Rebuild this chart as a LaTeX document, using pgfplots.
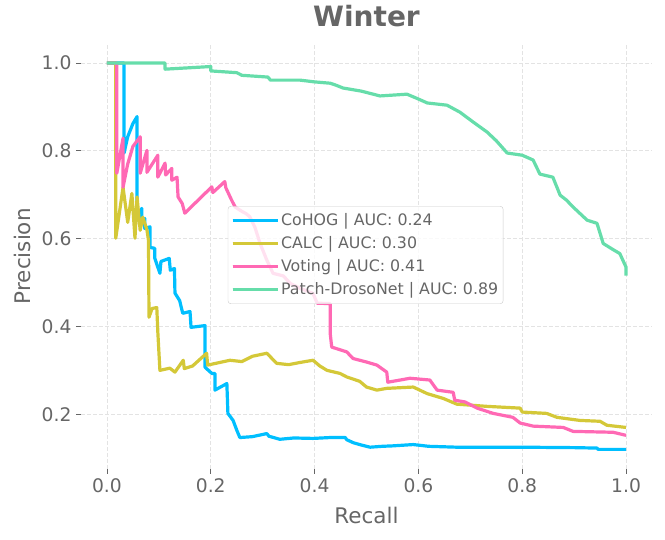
\documentclass[border=0pt]{standalone}
\usepackage{pgfplots}
\pgfplotsset{compat=1.18}
\usepackage{fontspec}
\setmainfont{DejaVu Sans}
\usetikzlibrary{calc}
\definecolor{cohog}{RGB}{0,191,255}
\definecolor{calcc}{RGB}{212,200,56}
\definecolor{voting}{RGB}{255,105,180}
\definecolor{droso}{RGB}{102,221,170}
\definecolor{txt}{RGB}{102,102,102}
\begin{document}
\begin{tikzpicture}
\begin{axis}[
 name=ax, scale only axis, width=571pt, height=425pt,
 xmin=-0.05, xmax=1.05, ymin=0.076, ymax=1.044,
 axis x line*=bottom, axis y line*=left,
 axis line style={draw=none},
 xtick={0,0.2,0.4,0.6,0.8,1}, ytick={0.2,0.4,0.6,0.8,1},
 /pgf/number format/.cd, fixed, fixed zerofill, precision=1, assume math mode=true,
 /pgfplots/.cd,
 ticklabel style={font=\fontsize{18.7}{22}\selectfont, text=txt},
 xticklabel style={yshift=-1pt},
 yticklabel style={xshift=-1pt},
 grid=major, major grid style={dash pattern=on 4pt off 2pt, color=gray!22, line width=0.8pt},
 tick align=outside, major tick length=5pt, tick style={color=txt, line width=0.8pt},
 title={Winter},
 title style={font=\fontsize{28}{32}\selectfont\bfseries, text=txt, at={(axis description cs:0.5,1)}, anchor=base, yshift=10.7pt},
 xlabel={Recall}, ylabel={Precision},
 label style={font=\fontsize{21.5}{26}\selectfont, text=txt},
 xlabel style={at={(axis description cs:0.5,-0.1286)}, anchor=base},
 ylabel style={at={(axis description cs:-0.0893,0.5)}, anchor=base},
 legend style={at={(0.257,0.618)}, anchor=north west, fill=white, fill opacity=0.8, text opacity=1,
   draw=gray!40, rounded corners=3pt, font=\fontsize{15.8}{19}\selectfont, text=txt,
   inner xsep=3pt, inner ysep=5.5pt, row sep=5.4pt, nodes={inner sep=2pt}},
 legend cell align=left,
 legend image code/.code={\draw[#1, line width=3pt] (0pt,0pt) -- (35pt,0pt);\path (0pt,0pt) -- (45pt,0pt);},
]
\addplot[cohog, line width=3.2pt, line join=round] coordinates {
(0,1.0)(0.033,1.0)(0.033,0.795)(0.04,0.832)(0.05,0.862)(0.058,0.878)(0.058,0.642)(0.067,0.669)(0.067,0.635)(0.073,0.646)(0.073,0.623)(0.083,0.627)(0.083,0.58)(0.092,0.578)(0.092,0.556)(0.102,0.521)(0.104,0.548)(0.12,0.555)(0.122,0.528)(0.13,0.532)(0.131,0.476)(0.14,0.459)(0.146,0.43)(0.16,0.434)(0.162,0.398)(0.189,0.402)(0.189,0.307)(0.202,0.293)(0.208,0.293)(0.208,0.255)(0.231,0.27)(0.233,0.202)(0.243,0.186)(0.25,0.164)(0.256,0.147)(0.28,0.149)(0.308,0.156)(0.312,0.150)(0.333,0.143)(0.36,0.146)(0.397,0.145)(0.43,0.147)(0.459,0.147)(0.462,0.142)(0.475,0.135)(0.49,0.130)(0.507,0.125)(0.53,0.127)(0.55,0.128)(0.59,0.131)(0.62,0.127)(0.674,0.125)(0.8,0.125)(0.9,0.124)(0.944,0.123)(0.946,0.12)(1.0,0.12)
};
\addlegendentry{CoHOG | AUC: 0.24}
\addplot[calcc, line width=3.2pt, line join=round] coordinates {
(0,1.0)(0.017,1.0)(0.017,0.601)(0.031,0.717)(0.04,0.637)(0.048,0.703)(0.054,0.601)(0.058,0.695)(0.064,0.619)(0.069,0.649)(0.077,0.62)(0.08,0.596)(0.081,0.421)(0.087,0.441)(0.096,0.443)(0.098,0.387)(0.102,0.30)(0.121,0.305)(0.131,0.296)(0.147,0.323)(0.149,0.304)(0.165,0.31)(0.192,0.339)(0.194,0.312)(0.237,0.323)(0.26,0.320)(0.28,0.332)(0.308,0.339)(0.327,0.316)(0.35,0.313)(0.372,0.318)(0.397,0.323)(0.41,0.31)(0.424,0.30)(0.449,0.293)(0.462,0.285)(0.487,0.275)(0.5,0.262)(0.52,0.255)(0.539,0.259)(0.59,0.262)(0.617,0.247)(0.648,0.236)(0.674,0.223)(0.732,0.218)(0.796,0.214)(0.8,0.205)(0.847,0.202)(0.867,0.193)(0.911,0.186)(0.95,0.184)(0.963,0.175)(1.0,0.170)
};
\addlegendentry{CALC | AUC: 0.30}
\addplot[voting, line width=3.2pt, line join=round] coordinates {
(0,1.0)(0.019,1.0)(0.019,0.749)(0.031,0.829)(0.031,0.717)(0.04,0.77)(0.05,0.81)(0.064,0.832)(0.064,0.749)(0.077,0.801)(0.077,0.751)(0.098,0.79)(0.098,0.74)(0.112,0.772)(0.113,0.745)(0.125,0.76)(0.125,0.733)(0.135,0.74)(0.137,0.695)(0.145,0.68)(0.15,0.658)(0.202,0.718)(0.204,0.705)(0.227,0.73)(0.229,0.716)(0.24,0.688)(0.247,0.672)(0.26,0.662)(0.268,0.657)(0.275,0.65)(0.285,0.626)(0.295,0.589)(0.308,0.551)(0.32,0.521)(0.34,0.515)(0.353,0.498)(0.372,0.487)(0.397,0.475)(0.405,0.453)(0.43,0.452)(0.43,0.385)(0.433,0.353)(0.462,0.342)(0.474,0.327)(0.5,0.319)(0.52,0.312)(0.539,0.296)(0.541,0.273)(0.584,0.282)(0.622,0.278)(0.636,0.255)(0.667,0.25)(0.67,0.232)(0.69,0.228)(0.713,0.214)(0.744,0.202)(0.782,0.193)(0.796,0.18)(0.821,0.173)(0.879,0.17)(0.898,0.161)(0.975,0.159)(1.0,0.152)
};
\addlegendentry{Voting | AUC: 0.41}
\addplot[droso, line width=3.2pt, line join=round] coordinates {
(0,1.0)(0.112,1.0)(0.112,0.986)(0.2,0.992)(0.2,0.982)(0.25,0.978)(0.26,0.972)(0.31,0.968)(0.315,0.961)(0.372,0.961)(0.40,0.957)(0.43,0.954)(0.44,0.950)(0.455,0.943)(0.49,0.936)(0.526,0.925)(0.578,0.929)(0.60,0.918)(0.617,0.909)(0.655,0.904)(0.68,0.888)(0.705,0.866)(0.732,0.843)(0.75,0.823)(0.771,0.795)(0.80,0.790)(0.821,0.779)(0.834,0.747)(0.859,0.740)(0.873,0.699)(0.885,0.688)(0.898,0.672)(0.925,0.642)(0.944,0.635)(0.956,0.589)(0.975,0.575)(0.988,0.566)(1.0,0.535)(1.0,0.516)
};
\addlegendentry{Patch-DrosoNet | AUC: 0.89}
\end{axis}
\pgfresetboundingbox
\path ($(ax.south west)+(-81pt,-71pt)$) rectangle ($(ax.north east)+(13pt,43.7pt)$);
\end{tikzpicture}
\end{document}
